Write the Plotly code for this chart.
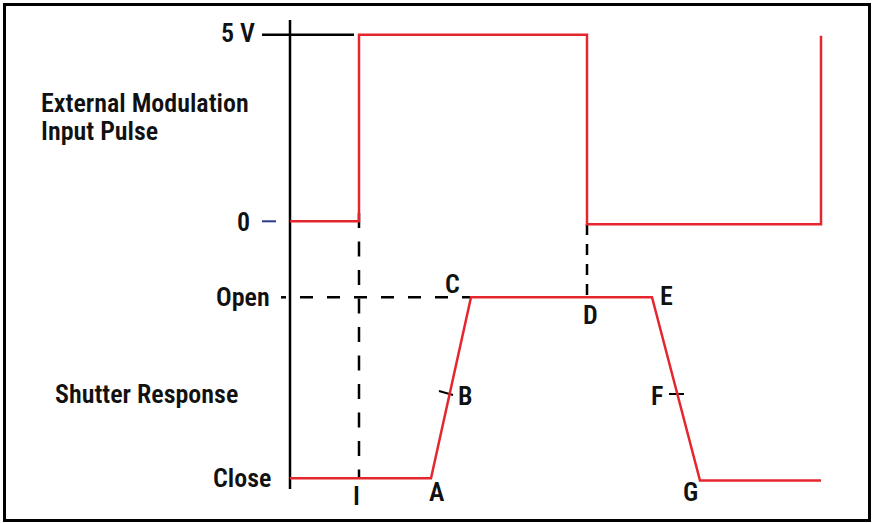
import plotly.graph_objects as go

W, H = 872, 523

# ---- data (time in arbitrary units, t=0 at the vertical axis) ----
pulse_t = [0, 69, 69, 297, 297, 531, 531]
pulse_v = [0, 0, 5, 5, -0.08, -0.08, 4.97]          # volts

shutter_t = [0, 141, 181, 362, 410, 531]
shutter_v = [0, 0, 1, 1, -0.012, -0.012]            # 0 = close, 1 = open

pulse_ticks = ["0", "5 V"]
shutter_ticks = ["Close", "Open"]
point_labels = ["A", "B", "C", "D", "E", "F", "G", "I"]

# ---- layout helpers (pixel -> paper) ----
def px(x):
    return x / W

def py(y):
    return 1 - y / H

# axis mapping anchors
X0_PX = 290                        # t = 0
V0_PX, V5_PX = 221.3, 34.7         # 0 V and 5 V rows
C_PX, O_PX = 478.3, 297.3          # close and open rows
v_scale = (V0_PX - V5_PX) / 5
s_scale = (C_PX - O_PX) / 1

RED = "#e5262c"
FONT = dict(family="Roboto Condensed, Liberation Sans, sans-serif",
            size=26, color="#111111", weight=600)

fig = go.Figure()
fig.add_trace(go.Scatter(x=pulse_t, y=pulse_v, mode="lines",
                         line=dict(color=RED, width=2.5), yaxis="y",
                         hoverinfo="skip"))
fig.add_trace(go.Scatter(x=shutter_t, y=shutter_v, mode="lines",
                         line=dict(color=RED, width=2.5), yaxis="y2",
                         hoverinfo="skip"))

shapes = []
def seg(x0, y0, x1, y1, color="#000000", width=2.5, dash="solid"):
    shapes.append(dict(type="line", xref="paper", yref="paper",
                       x0=px(x0), y0=py(y0), x1=px(x1), y1=py(y1),
                       line=dict(color=color, width=width, dash=dash),
                       layer="below"))

# outer frame
shapes.append(dict(type="rect", xref="paper", yref="paper",
                   x0=px(4.5), y0=py(520.5), x1=px(869.5), y1=py(4.5),
                   line=dict(color="#000000", width=3), layer="above"))
# vertical axis
seg(290, 20, 290, 489)
# 5 V reference line
seg(262, 34.7, 354, 34.7)
# 0 V marker
seg(262, 221.3, 276, 221.3, color="#2b3990", width=2)
# dashed guides
seg(359, 213, 359, 478, dash="15px,13.5px")
seg(281, 297.3, 286, 297.3)
seg(300, 297.3, 470, 297.3, dash="13px,14px")
seg(587, 224, 587, 297, dash="11px,9px")
# B and F tick marks
seg(439, 391, 453, 395, width=2)
seg(669, 394, 684, 394, width=2)

ann = []
def text(s, x, y, anchor="center", size=26):
    f = dict(FONT)
    f["size"] = size
    ann.append(dict(text=s, x=px(x), y=py(y), xref="paper", yref="paper",
                    xanchor=anchor, yanchor="middle", showarrow=False,
                    font=f, borderpad=0))

text(pulse_ticks[1], 256, 33, "right")
text(pulse_ticks[0], 251, 222, "right")
text(shutter_ticks[1], 271, 297, "right")
text(shutter_ticks[0], 272, 478, "right")
text("External Modulation", 40, 103, "left")
text("Input Pulse", 40, 131, "left")
text("Shutter Response", 54, 394, "left")

label_pos = {"A": (437, 491.5), "B": (465, 396), "C": (452.5, 283.5),
             "D": (590, 315), "E": (666, 295.5), "F": (657, 396),
             "G": (690, 491.5), "I": (356.5, 495.5)}
for lab in point_labels:
    x, y = label_pos[lab]
    text(lab, x, y, "center")

fig.update_layout(
    width=W, height=H,
    margin=dict(l=0, r=0, t=0, b=0),
    paper_bgcolor="white", plot_bgcolor="white",
    showlegend=False,
    xaxis=dict(range=[-X0_PX, W - X0_PX], visible=False, domain=[0, 1]),
    yaxis=dict(range=[-(H - V0_PX) / v_scale, V0_PX / v_scale],
               visible=False, domain=[0, 1]),
    yaxis2=dict(range=[-(H - C_PX) / s_scale, C_PX / s_scale],
                visible=False, overlaying="y"),
    shapes=shapes,
    annotations=ann,
)

fig.write_html("out.html", config={"displayModeBar": False},
               post_script="document.body.style.margin='0';")
